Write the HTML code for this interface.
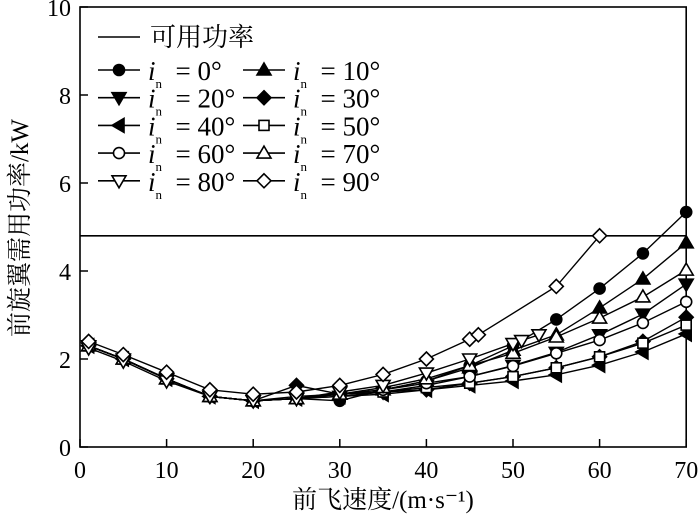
<!DOCTYPE html>
<html><head><meta charset="utf-8"><style>
body{margin:0;background:#fff}
svg text{font-family:"Liberation Serif","Noto Serif CJK SC",serif;fill:#000}
</style></head><body>
<svg id="c" width="700" height="522" viewBox="0 0 700 522"></svg>
<script>
const xTicks=[0,10,20,30,40,50,60,70];
const yTicks=[0,2,4,6,8,10];
const availablePower=4.8;
const xLow=[1,5,10,15,20];
const lowCommon=[2.3,2.0,1.55,1.15,1.05];
const xMain=[1,5,10,15,20,25,30,35,40,45,50,55,60,65,70];
const xHigh=[25,30,35,40,45,50,55,60,65,70];
const s0=[2.3,2.0,1.55,1.15,1.05,1.1,1.05,1.3,1.5,1.85,2.3,2.9,3.6,4.4,5.34];
const s10=[2.3,2.0,1.55,1.15,1.05,1.1,1.2,1.3,1.5,1.8,2.2,2.55,3.16,3.82,4.64];
const s20=[1.1,1.15,1.25,1.4,1.6,1.85,2.15,2.55,3.02,3.7];
const s30=[1.4,1.2,1.25,1.3,1.45,1.6,1.8,2.05,2.4,2.95];
const s40=[1.1,1.15,1.2,1.3,1.4,1.5,1.64,1.86,2.16,2.57];
const s50=[1.1,1.2,1.25,1.35,1.45,1.6,1.8,2.05,2.36,2.77];
const s60=[1.15,1.2,1.3,1.45,1.6,1.84,2.13,2.43,2.82,3.3];
const s70=[1.1,1.2,1.35,1.55,1.85,2.13,2.5,2.93,3.41,4.02];
const x80=[1,5,10,15,20,25,30,35,40,45,50,51,53];
const s80=[2.25,1.95,1.5,1.15,1.05,1.1,1.25,1.4,1.68,2.0,2.35,2.42,2.55];
const x90=[1,5,10,15,20,25,30,35,40,45,46,55,60];
const s90=[2.4,2.1,1.7,1.3,1.2,1.25,1.4,1.65,2.0,2.45,2.55,3.65,4.8];

const NS="http://www.w3.org/2000/svg";
const svg=document.getElementById('c');
const X=v=>80+v*8.66, Y=v=>447-v*44;
function el(t,a,p){const e=document.createElementNS(NS,t);for(const k in a)e.setAttribute(k,a[k]);(p||svg).appendChild(e);return e;}
function marker(kind,cx,cy,g){
  const f=(kind.fill?'#000':'#fff');const st={fill:f,stroke:'#000','stroke-width':1.6};
  let m;
  if(kind.s==='c')m=el('circle',Object.assign({cx,cy,r:5.5},st),g);
  else if(kind.s==='s')m=el('rect',Object.assign({x:cx-5,y:cy-5,width:10,height:10},st),g);
  else if(kind.s==='d')m=el('polygon',Object.assign({points:`${cx},${cy-7} ${cx+7},${cy} ${cx},${cy+7} ${cx-7},${cy}`},st),g);
  else if(kind.s==='u')m=el('polygon',Object.assign({points:`${cx},${cy-7} ${cx+7},${cy+5} ${cx-7},${cy+5}`},st),g);
  else if(kind.s==='v')m=el('polygon',Object.assign({points:`${cx},${cy+7} ${cx+7},${cy-5} ${cx-7},${cy-5}`},st),g);
  else if(kind.s==='l')m=el('polygon',Object.assign({points:`${cx-7},${cy} ${cx+5},${cy-7} ${cx+5},${cy+7}`},st),g);
  
  
}
const frame=el('rect',{x:X(0),y:Y(10),width:X(70)-X(0),height:Y(0)-Y(10),fill:'none',stroke:'#000','stroke-width':1.6});


xTicks.forEach(v=>{
  el('line',{x1:X(v),x2:X(v),y1:Y(0),y2:Y(0)-8,stroke:'#000','stroke-width':1.5});
  const t=el('text',{x:X(v),y:478,'text-anchor':'middle','font-size':24});t.textContent=v;
  
  
});
yTicks.forEach(v=>{
  el('line',{x1:X(0),x2:X(0)+8,y1:Y(v),y2:Y(v),stroke:'#000','stroke-width':1.5});
  const t=el('text',{x:X(0)-9,y:Y(v)+9,'text-anchor':'end','font-size':24});t.textContent=v;
  
  
});
const pl=el('line',{x1:X(0),x2:X(70),y1:Y(availablePower),y2:Y(availablePower),stroke:'#000','stroke-width':1.6});



const series=[
 {n:'0',xs:xMain,ys:s0,s:'c',fill:1},
 {n:'10',xs:xMain,ys:s10,s:'u',fill:1},
 {n:'20',xs:xLow.concat(xHigh),ys:lowCommon.concat(s20),s:'v',fill:1},
 {n:'30',xs:xLow.concat(xHigh),ys:lowCommon.concat(s30),s:'d',fill:1},
 {n:'40',xs:xLow.concat(xHigh),ys:lowCommon.concat(s40),s:'l',fill:1},
 {n:'50',xs:xLow.concat(xHigh),ys:lowCommon.concat(s50),s:'s',fill:0},
 {n:'60',xs:xLow.concat(xHigh),ys:lowCommon.concat(s60),s:'c',fill:0},
 {n:'70',xs:xLow.concat(xHigh),ys:lowCommon.concat(s70),s:'u',fill:0},
 {n:'80',xs:x80,ys:s80,s:'v',fill:0},
 {n:'90',xs:x90,ys:s90,s:'d',fill:0}
];
series.forEach(s=>{
  const g=el('g',{});
  
  
  el('polyline',{points:s.xs.map((x,i)=>X(x)+','+Y(s.ys[i])).join(' '),fill:'none',stroke:'#000','stroke-width':1.4},g);
  s.xs.forEach((x,i)=>marker(s,X(x),Y(s.ys[i]),g));
});
const lg=el('g',{});


el('line',{x1:98,x2:140,y1:37,y2:37,stroke:'#000','stroke-width':1.6},lg);
const lt=el('text',{x:150,y:46,'font-size':26},lg);lt.textContent='可用功率';
series.forEach((s,i)=>{
  const col=i%2,row=Math.floor(i/2);
  const x0=col?243:98, y0=70+row*27.7;
  const e=el('g',{},lg);
  
  
  el('line',{x1:x0,x2:x0+42,y1:y0,y2:y0,stroke:'#000','stroke-width':1.6},e);
  marker(s,x0+21,y0,e);
  const t=el('text',{x:x0+50,y:y0+10,'font-size':27},e);
  t.innerHTML='<tspan font-style="italic">i</tspan><tspan font-size="13" dy="8">n</tspan><tspan dy="-8" xml:space="preserve">  = '+s.n+'°</tspan>';
});
const xl=el('text',{x:383,y:508,'text-anchor':'middle','font-size':25});xl.textContent='前飞速度/(m·s⁻¹)';

const yl=el('text',{x:0,y:0,'text-anchor':'middle','font-size':25,transform:'translate(28,228) rotate(-90)'});yl.textContent='前旋翼需用功率/kW';

</script>
</body></html>
